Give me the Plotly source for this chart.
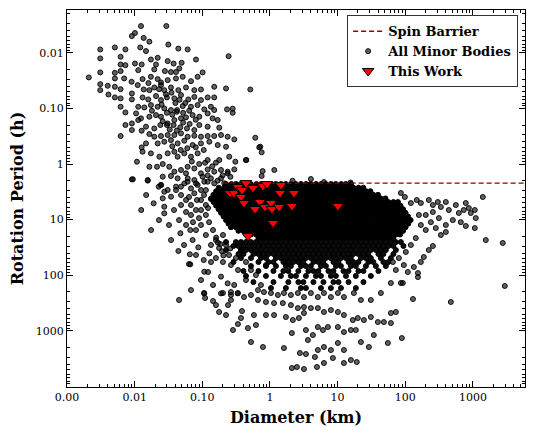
import plotly.graph_objects as go

# ---------------- data (diameter in km, rotation period in h) ----------------
spin_barrier_diameter = [0.2, 10000]
spin_barrier_period = [2.2, 2.2]

this_work_diameter = [0.257, 0.294, 0.337, 0.386, 0.442, 0.561, 0.373, 0.413, 0.788, 0.903,
                      0.711, 0.844, 1.035, 1.07, 0.60, 1.41, 1.45, 1.36, 2.11, 2.26,
                      1.11, 0.473, 10.1]
this_work_period = [3.32, 3.32, 2.59, 2.94, 2.20, 2.70, 3.92, 5.03, 2.49, 2.29,
                    4.82, 5.93, 5.03, 6.45, 6.45, 3.32, 2.39, 5.93, 5.69, 3.32,
                    11.5, 19.7, 5.69]

small_fast_diameter = [
    0.0124, 0.0294, 0.0101, 0.0091, 0.0136, 0.0165, 0.0315, 0.0121, 0.0031, 0.0051,
    0.0073, 0.0442, 0.0607, 0.0147, 0.0031, 0.0062, 0.0174, 0.0219, 0.0308, 0.0806,
    0.0495, 0.0377, 0.245, 0.0062, 0.0073, 0.0101, 0.0127, 0.0207, 0.0031, 0.0051,
    0.0062, 0.0113, 0.0195, 0.028, 0.0344, 0.0408, 0.0457, 0.101, 0.0021, 0.0051,
    0.0070, 0.0090, 0.0131, 0.0174, 0.0219, 0.0245, 0.0308, 0.0408, 0.0513, 0.068,
    0.0853, 0.0031, 0.0040, 0.0051, 0.0062, 0.0031, 0.0041, 0.0051, 0.0062, 0.0091,
    0.0091, 0.0111, 0.0136, 0.0165, 0.0195, 0.0245, 0.0274, 0.0344, 0.0442, 0.0574,
    0.0762, 0.0955, 0.150, 0.224, 0.512, 0.0131, 0.0159, 0.0207, 0.0245, 0.030,
    0.0386, 0.0484, 0.0621, 0.0762, 0.0955, 0.12, 0.150, 0.0062, 0.0113, 0.0139,
    0.0174, 0.0219, 0.0274, 0.0344, 0.0423, 0.0513, 0.068, 0.0853, 0.107, 0.134,
    0.150, 0.232, 0.281, 0.281, 0.0073, 0.0105, 0.0124, 0.0165, 0.0207, 0.0245,
    0.0308, 0.0386, 0.0484, 0.0574, 0.072, 0.0903, 0.12, 0.142, 0.169, 0.0073,
    0.0091, 0.0113, 0.0147, 0.0195, 0.024, 0.030, 0.0377, 0.0473, 0.0593, 0.0762,
    0.0903, 0.12, 0.178, 0.0062, 0.0091, 0.0127, 0.0165, 0.0195, 0.0245, 0.0308,
    0.0386, 0.0484, 0.0607, 0.0762, 0.0955, 0.12, 0.150, 0.189, 0.237, 0.607,
    0.0127, 0.0147, 0.0219, 0.0274, 0.0344, 0.0432, 0.0542, 0.072, 0.0955, 0.127,
    0.169, 0.224, 0.297, 0.72, 0.0108, 0.0131, 0.0174, 0.0232, 0.0308, 0.0386,
    0.0432, 0.0542, 0.068, 0.0853, 0.12, 0.159, 0.178, 0.25, 0.308, 0.442,
    0.0165, 0.0214, 0.026, 0.0325, 0.0386, 0.0484, 0.0607, 0.0762, 0.0955, 0.12,
    0.150, 0.189, 0.237, 0.297, 0.0091, 0.0156, 0.0245, 0.026, 0.0344, 0.0432,
    0.0574, 0.0607, 0.0762, 0.0853, 0.107, 0.134, 0.169, 0.211, 0.0308, 0.0408,
    0.0484, 0.0160, 0.0230, 0.0290, 0.0350, 0.0400, 0.0460, 0.0560, 0.0250, 0.0300,
    0.0360, 0.0420, 0.0520, 0.0640, 0.0330, 0.0420, 0.0520, 0.0650, 0.0800, 0.0260,
    0.0180, 0.0600, 0.0800, 0.1050, 0.0480, 0.0360, 0.1100, 0.0900, 0.0700, 0.1400,
    0.2000, 0.2600, 0.1200]
small_fast_period = [
    0.0033, 0.0033, 0.0044, 0.0050, 0.0054, 0.0063, 0.0071, 0.0080, 0.0087, 0.0080,
    0.0087, 0.0084, 0.0087, 0.0093, 0.0126, 0.0118, 0.0132, 0.0123, 0.0141, 0.0132,
    0.0151, 0.0156, 0.0115, 0.0162, 0.0167, 0.0156, 0.0162, 0.0162, 0.0225, 0.0229,
    0.0213, 0.0205, 0.0199, 0.0213, 0.0222, 0.0222, 0.0191, 0.0225, 0.0277, 0.0289,
    0.0289, 0.0332, 0.0297, 0.027, 0.0297, 0.0341, 0.031, 0.0289, 0.027, 0.0323,
    0.027, 0.0366, 0.0392, 0.0408, 0.045, 0.0469, 0.0561, 0.0634, 0.066, 0.0538,
    0.0689, 0.0381, 0.0456, 0.0469, 0.042, 0.0381, 0.0469, 0.042, 0.0469, 0.042,
    0.0469, 0.0456, 0.0408, 0.0437, 0.0456, 0.0634, 0.0689, 0.060, 0.0708, 0.0634,
    0.066, 0.0576, 0.0689, 0.062, 0.0708, 0.0634, 0.0634, 0.0933, 0.0933, 0.0959,
    0.0871, 0.0933, 0.10, 0.107, 0.107, 0.0908, 0.0933, 0.0871, 0.104, 0.0933,
    0.107, 0.104, 0.101, 0.12, 0.118, 0.123, 0.151, 0.141, 0.132, 0.141,
    0.186, 0.162, 0.151, 0.145, 0.132, 0.141, 0.123, 0.151, 0.162, 0.199,
    0.186, 0.162, 0.213, 0.229, 0.199, 0.199, 0.199, 0.219, 0.229, 0.245,
    0.199, 0.213, 0.222, 0.314, 0.245, 0.252, 0.289, 0.323, 0.314, 0.301,
    0.301, 0.281, 0.323, 0.31, 0.323, 0.314, 0.314, 0.301, 0.323, 0.337,
    0.502, 0.426, 0.426, 0.397, 0.371, 0.426, 0.381, 0.456, 0.426, 0.397,
    0.456, 0.489, 0.361, 0.489, 0.908, 0.60, 0.643, 0.738, 0.643, 0.60,
    0.738, 0.643, 0.738, 0.643, 0.848, 0.946, 0.848, 0.738, 0.908, 0.848,
    1.12, 1.12, 1.0, 1.12, 1.37, 1.28, 1.12, 1.2, 1.47, 1.25,
    1.37, 1.28, 1.37, 1.25, 1.89, 1.99, 2.38, 1.69, 1.64, 1.81,
    1.47, 2.08, 1.94, 2.38, 2.08, 1.81, 1.99, 2.22, 2.93, 2.55,
    2.55, 0.0350, 0.0450, 0.0560, 0.0520, 0.0800, 0.0700, 0.0800, 0.0850, 0.120,
    0.130, 0.115, 0.120, 0.110, 0.240, 0.250, 0.180, 0.190, 0.160, 0.170,
    0.110, 0.520, 0.500, 0.560, 0.560, 0.480, 0.950, 1.00, 0.90, 1.10,
    1.60, 1.70, 1.60]

# dense core of the main population: one period per row, diameters along the row
core_row_periods = [2.29, 2.66, 3.08, 3.58, 4.16, 4.83, 5.6, 6.5,
                    7.55, 8.76, 10.2, 11.8, 13.7, 15.9, 18.5, 21.4]
core_row_diameters = [
    [0.224, 0.27, 0.314, 0.37, 0.45, 0.52, 0.63, 0.74, 0.87, 1.04, 1.22, 1.46, 1.71, 2.05, 2.41,
     2.88, 3.42, 4.0, 4.8, 5.7, 6.7, 8.0, 9.4, 11.3, 13.2, 15.8],
    [0.175, 0.21, 0.244, 0.29, 0.34, 0.41, 0.48, 0.57, 0.68, 0.80, 0.95, 1.13, 1.33, 1.59, 1.86,
     2.23, 2.62, 3.13, 3.69, 4.4, 5.2, 6.2, 7.3, 8.7, 10.3, 12.2, 14.5, 17.1, 20.4, 24.0],
    [0.16, 0.19, 0.225, 0.265, 0.31, 0.37, 0.44, 0.53, 0.62, 0.73, 0.88, 1.03, 1.23, 1.45, 1.73,
     2.03, 2.43, 2.86, 3.41, 4.02, 4.79, 5.66, 6.73, 7.95, 9.45, 11.2, 13.3, 15.7, 18.7, 22.0,
     26.3, 30.5],
    [0.146, 0.174, 0.205, 0.245, 0.29, 0.345, 0.405, 0.48, 0.57, 0.675, 0.80, 0.95, 1.13, 1.34,
     1.58, 1.87, 2.22, 2.63, 3.12, 3.7, 4.39, 5.2, 6.17, 7.32, 8.67, 10.3, 12.2, 14.5, 17.1,
     20.3, 24.1, 28.5, 33.8, 39.5],
    [0.135, 0.16, 0.19, 0.224, 0.265, 0.315, 0.375, 0.44, 0.525, 0.62, 0.74, 0.87, 1.035, 1.23,
     1.45, 1.72, 2.04, 2.42, 2.87, 3.4, 4.03, 4.78, 5.67, 6.72, 7.96, 9.44, 11.2, 13.3, 15.7,
     18.6, 22.1, 26.2, 31.0, 36.8, 43.6, 51.0],
    [0.147, 0.175, 0.206, 0.244, 0.29, 0.342, 0.406, 0.48, 0.57, 0.676, 0.80, 0.95, 1.127, 1.335,
     1.58, 1.87, 2.22, 2.63, 3.12, 3.7, 4.39, 5.2, 6.17, 7.32, 8.67, 10.3, 12.2, 14.5, 17.1,
     20.3, 24.1, 28.5, 33.8, 40.1, 47.5, 56.3, 66.8, 78.0],
    [0.16, 0.19, 0.224, 0.265, 0.314, 0.37, 0.44, 0.52, 0.62, 0.736, 0.87, 1.035, 1.226, 1.45,
     1.72, 2.04, 2.42, 2.87, 3.4, 4.03, 4.78, 5.67, 6.72, 7.96, 9.44, 11.2, 13.3, 15.7, 18.6,
     22.1, 26.2, 31.0, 36.8, 43.6, 51.7, 61.3, 72.6, 85.0],
    [0.174, 0.206, 0.244, 0.29, 0.342, 0.406, 0.48, 0.57, 0.68, 0.80, 0.95, 1.127, 1.335, 1.58,
     1.87, 2.22, 2.63, 3.12, 3.7, 4.39, 5.2, 6.17, 7.32, 8.67, 10.3, 12.2, 14.5, 17.1, 20.3,
     24.1, 28.5, 33.8, 40.1, 47.5, 56.3, 66.8, 79.2, 93.0],
    [0.189, 0.224, 0.265, 0.314, 0.373, 0.44, 0.524, 0.621, 0.736, 0.873, 1.035, 1.226, 1.45,
     1.72, 2.04, 2.42, 2.87, 3.4, 4.03, 4.78, 5.67, 6.72, 7.96, 9.44, 11.2, 13.3, 15.7, 18.6,
     22.1, 26.2, 31.0, 36.8, 43.6, 51.7, 61.3, 72.6, 86.1, 101.0],
    [0.206, 0.244, 0.289, 0.342, 0.406, 0.481, 0.57, 0.676, 0.801, 0.95, 1.127, 1.335, 1.58,
     1.87, 2.22, 2.63, 3.12, 3.7, 4.39, 5.2, 6.17, 7.32, 8.67, 10.3, 12.2, 14.5, 17.1, 20.3,
     24.1, 28.5, 33.8, 40.1, 47.5, 56.3, 66.8, 79.2, 93.9, 110.0],
    [0.224, 0.265, 0.314, 0.373, 0.442, 0.524, 0.621, 0.736, 0.873, 1.035, 1.226, 1.45, 1.72,
     2.04, 2.42, 2.87, 3.4, 4.03, 4.78, 5.67, 6.72, 7.96, 9.44, 11.2, 13.3, 15.7, 18.6, 22.1,
     26.2, 31.0, 36.8, 43.6, 51.7, 61.3, 72.6, 86.1, 102.0, 120.0],
    [0.244, 0.289, 0.342, 0.406, 0.481, 0.57, 0.676, 0.801, 0.95, 1.127, 1.335, 1.58, 1.87,
     2.22, 2.63, 3.12, 3.7, 4.39, 5.2, 6.17, 7.32, 8.67, 10.3, 12.2, 14.5, 17.1, 20.3, 24.1,
     28.5, 33.8, 40.1, 47.5, 56.3, 66.8, 79.2, 93.9, 111.0],
    [0.265, 0.314, 0.373, 0.442, 0.524, 0.621, 0.736, 0.873, 1.035, 1.226, 1.45, 1.72, 2.04,
     2.42, 2.87, 3.4, 4.03, 4.78, 5.67, 6.72, 7.96, 9.44, 11.2, 13.3, 15.7, 18.6, 22.1, 26.2,
     31.0, 36.8, 43.6, 51.7, 61.3, 72.6, 86.1, 101.0],
    [0.342, 0.406, 0.481, 0.57, 0.676, 0.801, 0.95, 1.127, 1.335, 1.58, 1.87, 2.22, 2.63, 3.12,
     3.7, 4.39, 5.2, 6.17, 7.32, 8.67, 10.3, 12.2, 14.5, 17.1, 20.3, 24.1, 28.5, 33.8, 40.1,
     47.5, 56.3, 66.8, 79.2, 93.0],
    [0.442, 0.524, 0.621, 0.736, 0.873, 1.035, 1.226, 1.45, 1.72, 2.04, 2.42, 2.87, 3.4, 4.03,
     4.78, 5.67, 6.72, 7.96, 9.44, 11.2, 13.3, 15.7, 18.6, 22.1, 26.2, 31.0, 36.8, 43.6, 51.7,
     61.3, 72.6, 84.0],
    [0.676, 0.801, 0.95, 1.127, 1.335, 1.58, 1.87, 2.22, 2.63, 3.12, 3.7, 4.39, 5.2, 6.17, 7.32,
     8.67, 10.3, 12.2, 14.5, 17.1, 20.3, 24.1, 28.5, 33.8, 40.1, 47.5, 56.3, 66.8],
]

# looser band just below the core
band_row_periods = [25.3, 29.8, 35.2, 41.6, 49.1, 57.9, 68.4, 84.0, 103.0, 133.0, 170.0]
band_row_diameters = [
    [0.224, 0.314, 0.373, 0.442, 0.524, 0.621, 0.736, 0.873, 1.035, 1.226,
     1.45, 1.72, 2.04, 2.42, 2.87, 3.40, 4.03, 4.78, 5.67, 6.72, 7.96, 9.44, 11.2, 13.3, 15.7,
     18.6, 22.1, 26.2, 31.0, 36.8, 43.6, 51.7, 61.3, 72.6, 86.1],
    [0.289, 0.342, 0.406, 0.481, 0.57, 0.676, 0.801, 0.95, 1.127, 1.335, 1.58,
     1.87, 2.22, 2.63, 3.12, 3.70, 4.39, 5.20, 6.17, 7.32, 8.67, 10.3, 12.2, 14.5, 17.1, 20.3,
     24.1, 28.5, 33.8, 40.1, 47.5, 56.3, 66.8, 93.9],
    [0.224, 0.373, 0.442, 0.524, 0.621, 0.736, 0.873, 1.035, 1.226, 1.45, 1.72,
     2.04, 2.42, 2.87, 3.40, 4.03, 4.78, 5.67, 6.72, 7.96, 9.44, 11.2, 13.3, 15.7, 18.6, 22.1,
     26.2, 31.0, 36.8, 43.6, 51.7, 72.6],
    [0.342, 0.406, 0.57, 0.676, 0.801, 0.95, 1.127, 1.335, 1.58, 1.87, 2.22, 2.63, 3.12,
     3.70, 4.39, 5.20, 6.17, 7.32, 8.67, 10.3, 12.2, 14.5, 17.1, 20.3, 24.1, 28.5, 40.1, 47.5,
     66.8],
    [0.373, 0.524, 0.736, 0.873, 1.226, 1.45, 1.72, 2.04, 2.42, 2.87, 3.40, 4.03, 4.78,
     5.67, 6.72, 7.96, 9.44, 11.2, 13.3, 15.7, 22.1, 26.2, 31.0, 43.6, 61.3],
    [0.289, 0.676, 0.95, 1.127, 1.58, 1.87, 2.22, 2.63, 3.12, 4.39, 5.20, 6.17, 8.67,
     10.3, 14.5, 17.1, 20.3, 28.5, 33.8, 47.5, 56.3],
    [0.524, 0.873, 1.226, 1.72, 2.04, 2.87, 3.40, 4.03, 5.67, 6.72, 9.44, 11.2, 15.7,
     18.6, 26.2, 36.8, 51.7],
    [0.406, 0.676, 1.127, 1.58, 1.87, 2.63, 3.70, 4.39, 5.20, 7.32, 8.67, 12.2, 14.5, 20.3,
     24.1, 40.1],
    [0.442, 0.873, 1.45, 2.04, 2.42, 3.40, 4.78, 5.67, 7.96, 9.44, 13.3, 18.6, 31.0],
    [0.57, 1.127, 1.87, 2.63, 3.12, 4.39, 6.17, 8.67, 10.3, 14.5, 24.1],
    [1.035, 1.72, 2.87, 3.40, 5.67, 7.96, 11.2, 18.6],
]

# scattered bodies around the core (left wing, slow rotators, large bodies)
halo_diameter = [
    0.0094, 0.0156, 0.0148, 0.0191, 0.0227, 0.0245, 0.0274, 0.026, 0.0274, 0.0274,
    0.0345, 0.0409, 0.0485, 0.0543, 0.0609, 0.068, 0.0761, 0.0806, 0.101, 0.0957,
    0.12, 0.15, 0.189, 0.237, 0.0345, 0.0443, 0.0474, 0.0664, 0.072, 0.0654,
    0.0664, 0.0873, 0.105, 0.127, 0.107, 0.189, 0.237, 0.296, 0.189, 0.107,
    0.265, 0.333,
    0.0575, 0.068, 0.0806, 0.0957, 0.113, 0.068, 0.0894, 0.113, 0.0957, 0.126,
    0.0806, 0.113, 0.144, 0.159, 0.1345, 0.177, 0.202, 0.224, 0.248, 0.159,
    0.202, 0.265, 0.314, 0.337, 0.373, 0.442, 0.524, 0.442, 0.621, 0.736,
    0.873, 0.0485, 0.0575, 0.0453, 0.0575, 0.0728, 0.0957, 0.106, 0.0834, 0.0636,
    0.113, 0.1345, 0.1215, 0.0382, 0.0322, 0.0229, 0.0175, 0.0125, 0.0537, 0.0806,
    0.1345, 0.0957, 0.144, 0.068, 0.0453, 0.159, 0.224, 0.373, 0.621, 0.284,
    0.0636, 0.1215, 0.106, 0.11, 0.144, 0.177, 0.24, 0.265, 0.386, 0.473,
    0.336, 0.524, 0.788, 1.61, 2.11, 2.5, 3.18, 4.95, 6.28, 8.52,
    12.4, 15.7, 19.2, 0.58, 0.873, 1.15, 1.72, 2.18, 2.68, 3.18,
    2.11, 3.40, 3.64, 4.31, 5.11, 6.07, 7.19, 10.1, 12.4, 15.7,
    18.6, 5.11, 6.28, 7.96, 10.1, 12.4, 2.77, 3.40, 4.62, 22.1,
    29.0, 34.3, 55.3, 89.1, 61.3, 48.3, 39.4, 31.0, 24.5, 19.9,
    16.8, 12.4, 10.1, 7.96, 6.28, 5.11, 4.03, 3.18, 2.59, 2.04,
    1.55, 1.15, 0.873, 0.665, 0.524, 0.413, 0.336, 0.265, 0.202, 72.6,
    61.3, 154.0, 130.0, 86.1, 61.3, 43.6, 31.0, 22.1, 17.4, 12.4,
    10.1, 7.96, 6.28, 5.11, 4.03, 3.18, 2.59, 2.04, 1.61, 1.31,
    1.035, 0.815, 0.665,
    86.1, 98.7, 121.0, 148.0, 170.0, 223.0, 256.0, 303.0, 336.0, 398.0,
    441.0, 560.0, 619.0, 733.0, 785.0, 870.0, 931.0, 1067.0, 1103.0, 1401.0,
    1067.0, 1551.0, 2763.0, 2959.0, 472.0, 154.0, 92.1, 256.0, 188.0, 223.0,
    170.0, 134.0, 109.0, 95.3, 72.6, 170.0, 201.0, 239.0, 283.0, 336.0,
    398.0, 159.0, 201.0, 256.0, 314.0, 505.0, 662.0, 785.0, 398.0, 143.0,
    121.0, 102.0, 80.5, 65.6,
    0.695, 0.754, 0.447, 0.78, 0.754, 1.16, 4.03, 6.28, 2.16, 15.5,
    0.17, 0.195, 0.185, 0.26, 0.205, 0.16]
halo_period = [
    1.88, 1.94, 3.61, 5.09, 2.56, 2.39, 3.15, 4.14, 5.86, 7.7,
    3.87, 2.94, 3.61, 2.23, 1.81, 2.74, 3.36, 2.23, 1.69, 2.94,
    2.08, 2.23, 1.81, 1.47, 23.3, 36.7, 17.6, 15.4, 23.3, 42.0,
    63.7, 31.5, 53.3, 40.4, 86.5, 106.0, 140.0, 150.0, 212.0, 212.0,
    227.0, 212.0,
    4.44, 5.46, 6.72, 4.44, 5.46, 8.26, 9.39, 8.26, 12.5, 11.1,
    15.4, 18.9, 15.4, 23.3, 28.6, 32.4, 18.9, 28.6, 43.3, 49.1,
    57.9, 65.6, 49.1, 80.6, 35.2, 57.9, 80.6, 122.0, 99.1, 150.0,
    65.6, 5.46, 7.3, 10.2, 12.5, 11.1, 6.72, 3.61, 4.44, 3.92,
    2.94, 4.26, 6.19, 6.72, 12.5, 10.2, 15.4, 6.72, 28.6, 43.3,
    57.9, 122.0, 150.0, 185.0, 279.0, 344.0, 520.0, 589.0, 787.0, 968.0,
    63.0, 87.5, 209.0, 257.0, 291.0, 459.0, 344.0, 279.0, 441.0, 891.0,
    755.0, 1590.0, 1955.0, 2040.0, 4670.0, 4470.0, 4865.0, 4470.0, 3790.0, 3085.0,
    3790.0, 3350.0, 3640.0, 520.0, 520.0, 520.0, 565.0, 640.0, 589.0, 479.0,
    1097.0, 968.0, 1464.0, 1191.0, 855.0, 968.0, 855.0, 855.0, 1051.0, 968.0,
    968.0, 2215.0, 1955.0, 2215.0, 1657.0, 2215.0, 2508.0, 2614.0, 2958.0, 1590.0,
    1955.0, 1191.0, 1657.0, 1348.0, 725.0, 695.0, 695.0, 565.0, 640.0, 589.0,
    640.0, 520.0, 459.0, 423.0, 459.0, 390.0, 390.0, 374.0, 390.0, 344.0,
    317.0, 317.0, 303.0, 279.0, 227.0, 247.0, 209.0, 201.0, 209.0, 459.0,
    479.0, 91.3, 268.0, 138.0, 138.0, 209.0, 279.0, 279.0, 209.0, 247.0,
    209.0, 247.0, 209.0, 247.0, 209.0, 247.0, 209.0, 227.0, 209.0, 227.0,
    209.0, 201.0, 185.0,
    3.32, 3.92, 5.03, 4.44, 5.03, 4.44, 5.46, 4.82, 5.93, 4.82,
    6.72, 5.46, 7.6, 6.72, 5.03, 6.19, 7.6, 6.72, 9.39, 3.92,
    14.2, 23.3, 26.3, 156.0, 303.0, 108.0, 138.0, 29.8, 47.0, 35.2,
    57.9, 71.2, 87.5, 65.6, 80.6, 12.5, 15.4, 11.1, 14.2, 18.9,
    12.5, 8.26, 8.26, 7.3, 9.39, 10.2, 11.1, 13.0, 16.7, 21.5,
    28.6, 38.2, 49.1, 57.9,
    0.50, 0.616, 0.847, 1.34, 1.64, 1.28, 1.86, 2.11, 2.0, 2.15,
    26.0, 37.0, 27.5, 33.0, 44.0, 21.0]

x_tick_values = [0.001, 0.01, 0.1, 1, 10, 100, 1000]
x_tick_labels = ["0.00", "0.01", "0.10", "1", "10", "100", "1000"]
y_tick_values = [0.01, 0.1, 1, 10, 100, 1000]
y_tick_labels = ["0.01", "0.10", "1", "10", "100", "1000"]

# ---------------- assemble the "All Minor Bodies" population ----------------
sparse_diameter = list(small_fast_diameter) + list(halo_diameter)
sparse_period = list(small_fast_period) + list(halo_period)

core_diameter, core_period = [], []
for per, row in zip(core_row_periods, core_row_diameters):
    core_diameter += row
    core_period += [per] * len(row)

band_diameter, band_period = [], []
for per, row in zip(band_row_periods, band_row_diameters):
    band_diameter += row
    band_period += [per] * len(row)

SERIF = "DejaVu Serif"

fig = go.Figure()
# overlapping thousands of bodies render the core as solid black
fig.add_trace(go.Scatter(
    x=core_diameter, y=core_period, mode="markers", name="All Minor Bodies",
    legendgroup="all", showlegend=False, hoverinfo="skip",
    marker=dict(size=5, color="black", line=dict(color="black", width=1)),
))
fig.add_trace(go.Scatter(
    x=band_diameter, y=band_period, mode="markers", name="All Minor Bodies",
    legendgroup="all", showlegend=False, hoverinfo="skip",
    marker=dict(size=5, color="rgba(0,0,0,0.95)", line=dict(color="black", width=1)),
))
fig.add_trace(go.Scatter(
    x=sparse_diameter, y=sparse_period, mode="markers", name="All Minor Bodies",
    legendgroup="all", legendrank=2,
    marker=dict(size=5, color="rgba(0,0,0,0.62)",
                line=dict(color="rgba(0,0,0,0.9)", width=1)),
))
fig.add_trace(go.Scatter(
    x=spin_barrier_diameter, y=spin_barrier_period, mode="lines", name="Spin Barrier",
    legendrank=1,
    line=dict(color="#8b0000", width=1.3, dash="5px,3px"),
))
fig.add_trace(go.Scatter(
    x=this_work_diameter, y=this_work_period, mode="markers", name="This Work",
    legendrank=3,
    marker=dict(symbol="triangle-down", size=10, color="red",
                line=dict(color="black", width=1)),
))

minor_x = [m * 10 ** e for e in range(-3, 4) for m in range(2, 10)]
minor_y = [m * 10 ** e for e in range(-3, 4) for m in range(2, 10)]

axis_common = dict(
    type="log", showgrid=False, zeroline=False,
    showline=True, linecolor="black", linewidth=1, mirror="allticks",
    ticks="inside", ticklen=6, tickwidth=1, tickcolor="black",
    tickfont=dict(family=SERIF, size=11, color="black"),
)

fig.update_layout(
    width=535, height=434,
    margin=dict(l=67, r=10, t=10, b=47),
    paper_bgcolor="white", plot_bgcolor="white",
    font=dict(family=SERIF, color="black"),
    showlegend=True,
    legend=dict(
        x=0.985, y=0.986, xanchor="right", yanchor="top",
        bgcolor="white", bordercolor="#333333", borderwidth=1,
        font=dict(family=SERIF, size=13, color="black", weight="bold"),
        tracegroupgap=0, itemwidth=30,
    ),
    xaxis=dict(
        **axis_common,
        range=[-3.0, 3.77],
        tickmode="array", tickvals=x_tick_values, ticktext=x_tick_labels,
        minor=dict(tickmode="array", tickvals=minor_x, ticks="inside", ticklen=3,
                   tickcolor="black", showgrid=False),
        title=dict(text="Diameter (km)", standoff=8,
                   font=dict(family=SERIF, size=16, color="black", weight="bold")),
    ),
    yaxis=dict(
        **axis_common,
        range=[4.01, -2.77],
        tickmode="array", tickvals=y_tick_values, ticktext=y_tick_labels,
        minor=dict(tickmode="array", tickvals=minor_y, ticks="inside", ticklen=3,
                   tickcolor="black", showgrid=False),
        title=dict(text="Rotation Period (h)", standoff=8,
                   font=dict(family=SERIF, size=16, color="black", weight="bold")),
    ),
)

fig.write_html(
    "out.html",
    config={"displayModeBar": False},
    post_script="document.body.style.margin='0';document.body.style.padding='0';"
                "document.body.style.overflow='hidden';",
)
